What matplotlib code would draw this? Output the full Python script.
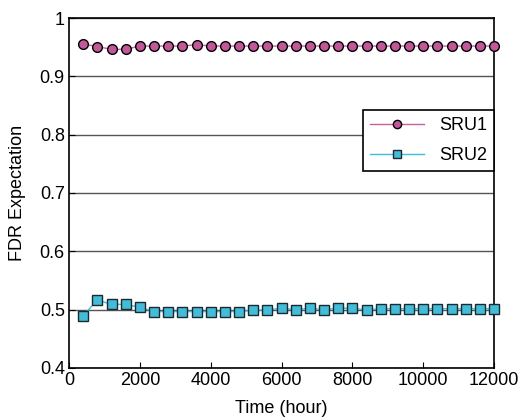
import numpy as np
import matplotlib
matplotlib.use("Agg")
import matplotlib.pyplot as plt

plt.rcParams['font.family'] = ['Liberation Sans', 'DejaVu Sans']

time_h = np.arange(400, 12001, 400)
sru1 = [0.9555, 0.951, 0.9464, 0.9464, 0.952, 0.952, 0.952, 0.952, 0.9543, 0.952,
        0.952, 0.952, 0.952, 0.952, 0.952, 0.952, 0.952, 0.952, 0.952, 0.952,
        0.952, 0.952, 0.952, 0.952, 0.952, 0.952, 0.952, 0.952, 0.952, 0.952]
sru2 = [0.4897, 0.5166, 0.509, 0.509, 0.504, 0.4966, 0.4966, 0.4966, 0.4966, 0.4966,
        0.4966, 0.4966, 0.499, 0.4995, 0.5023, 0.5, 0.5023, 0.5, 0.5023, 0.5023,
        0.4995, 0.5015, 0.5015, 0.5015, 0.5015, 0.5015, 0.5015, 0.5015, 0.5015, 0.5015]

fig = plt.figure(figsize=(5.19, 4.2), dpi=100)
ax = fig.add_axes([0.133, 0.124, 0.819, 0.833])

ax.plot(time_h, sru1, '-o', color='#C8609F', lw=1, ms=7,
        markerfacecolor='#C0589A', markeredgecolor='black', markeredgewidth=1,
        label='SRU1', clip_on=False, zorder=3)
ax.plot(time_h, sru2, '-s', color='#40BCDC', lw=1, ms=7,
        markerfacecolor='#44BCD8', markeredgecolor='#1a2a30', markeredgewidth=1,
        label='SRU2', clip_on=False, zorder=3)

ax.set_xlim(0, 12000)
ax.set_ylim(0.4, 1.0)
ax.set_xticks(range(0, 12001, 2000))
ax.set_yticks([0.4, 0.5, 0.6, 0.7, 0.8, 0.9, 1.0])
ax.set_yticklabels(['0.4', '0.5', '0.6', '0.7', '0.8', '0.9', '1'])
ax.yaxis.grid(True, color='#555555', lw=1)
ax.set_axisbelow(True)
ax.tick_params(direction='in', labelsize=13, length=4, pad=3)
for s in ax.spines.values():
    s.set_linewidth(1.2)

ax.set_xlabel('Time (hour)', fontsize=13, labelpad=8)
ax.set_ylabel('FDR Expectation', fontsize=13, labelpad=10)

leg = ax.legend(loc='upper right', bbox_to_anchor=(1.0, 0.737), fontsize=13,
                fancybox=False, framealpha=1, edgecolor='black',
                handlelength=3.0, labelspacing=0.7, markerscale=0.85,
                borderaxespad=0)
leg.get_frame().set_linewidth(1.2)

fig.savefig('out.png', dpi=100)
